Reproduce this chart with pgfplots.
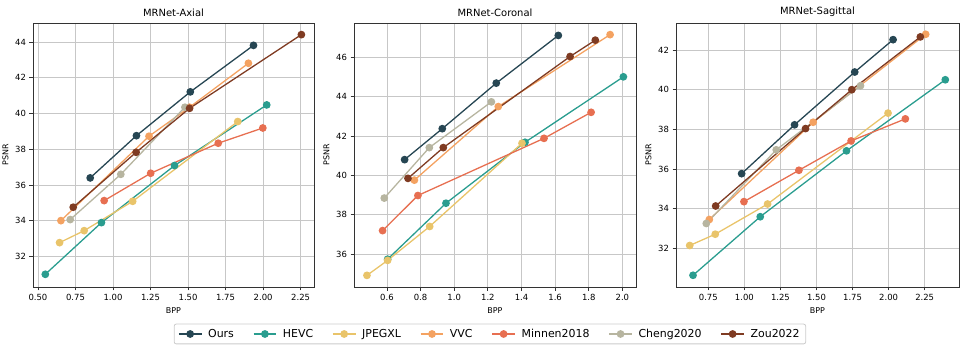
\documentclass[border=0pt]{standalone}
\usepackage{fontspec}
\setmainfont{DejaVu Sans}
\usepackage{pgfplots}
\pgfplotsset{compat=1.18}

\definecolor{cOurs}{HTML}{264653}
\definecolor{cHEVC}{HTML}{2A9D8F}
\definecolor{cJXL}{HTML}{E9C46A}
\definecolor{cVVC}{HTML}{F4A261}
\definecolor{cMinnen}{HTML}{E76F51}
\definecolor{cCheng}{HTML}{B7B5A0}
\definecolor{cZou}{HTML}{7F3B22}

\pgfplotsset{
  mr/.style={
    scale only axis, width=281bp, height=264bp,
    grid=major, grid style={draw=black!22, line width=0.8pt},
    axis line style={draw=black!80, line width=0.8pt},
    tick align=outside, xtick pos=lower, ytick pos=left,
    tick style={draw=black!80, line width=0.8pt}, major tick length=3.5bp,
    tick label style={font=\fontsize{8.5}{10}\selectfont},
    /pgf/number format/assume math mode=true,
    label style={font=\fontsize{8}{10}\selectfont},
    title style={font=\fontsize{10}{12}\selectfont, yshift=-3bp},
    xlabel={BPP}, ylabel={PSNR},
    every axis plot/.append style={line width=1.3pt, mark=*, mark size=3.2bp},
    legend image code/.code={\draw[mark repeat=2,mark phase=2] plot coordinates {(0cm,0cm) (0.4cm,0cm) (0.8cm,0cm)};},
  },
  ours/.style={color=cOurs},
  hevc/.style={color=cHEVC},
  jxl/.style={color=cJXL},
  vvc/.style={color=cVVC},
  minnen/.style={color=cMinnen},
  cheng/.style={color=cCheng},
  zou/.style={color=cZou},
}

\begin{document}
\begin{tikzpicture}
\useasboundingbox (0,0) rectangle (969bp,353bp);

% ---- Axial ----
\begin{axis}[mr, at={(33bp,66bp)}, anchor=south west,
  title={MRNet-Axial},
  xmin=0.467, xmax=2.339, ymin=30.30, ymax=45.06,
  xtick={0.5,0.75,...,2.25}, ytick={32,34,...,44},
  xticklabel style={/pgf/number format/.cd, fixed, fixed zerofill, precision=2},
]
\addplot[hevc] coordinates {(0.549,31.01) (0.923,33.90) (1.410,37.09) (2.024,40.48)};
\addplot[jxl] coordinates {(0.644,32.78) (0.808,33.45) (1.131,35.09) (1.831,39.55)};
\addplot[vvc] coordinates {(0.653,34.01) (1.240,38.73) (1.510,40.35) (1.902,42.81)};
\addplot[minnen] coordinates {(0.941,35.13) (1.251,36.66) (1.701,38.34) (1.998,39.19)};
\addplot[cheng] coordinates {(0.715,34.07) (1.052,36.60) (1.479,40.35)};
\addplot[zou] coordinates {(0.735,34.76) (1.154,37.83) (1.510,40.29) (2.255,44.41)};
\addplot[ours] coordinates {(0.848,36.40) (1.156,38.76) (1.515,41.21) (1.936,43.81)};
\end{axis}

% ---- Coronal ----
\begin{axis}[mr, at={(354bp,66bp)}, anchor=south west, width=282bp,
  title={MRNet-Coronal},
  xmin=0.404, xmax=2.081, ymin=34.34, ymax=47.73,
  xtick={0.6,0.8,...,2.01}, ytick={36,38,...,46},
  xticklabel style={/pgf/number format/.cd, fixed, fixed zerofill, precision=1},
  legend style={at={(0.482,-0.178)}, anchor=center, legend columns=7,
    font=\fontsize{11}{13}\selectfont, draw=black!20, line width=0.8pt,
    rounded corners=2bp, inner xsep=4bp, inner ysep=3bp,
    /tikz/every odd column/.append style={column sep=4bp},
    /tikz/every even column/.append style={column sep=17bp}},
  legend cell align=left,
]
\addplot[ours] coordinates {(0.705,40.80) (0.929,42.37) (1.250,44.68) (1.619,47.10)};
\addplot[hevc] coordinates {(0.604,35.75) (0.951,38.59) (1.421,41.68) (2.006,45.00)};
\addplot[jxl] coordinates {(0.481,34.93) (0.604,35.69) (0.854,37.41) (1.403,41.63)};
\addplot[vvc] coordinates {(0.763,39.76) (1.262,43.49) (1.927,47.14)};
\addplot[minnen] coordinates {(0.574,37.20) (0.784,38.98) (1.534,41.88) (1.814,43.20)};
\addplot[cheng] coordinates {(0.584,38.85) (0.852,41.41) (1.221,43.73)};
\addplot[zou] coordinates {(0.725,39.85) (0.935,41.41) (1.689,46.03) (1.839,46.86)};
\legend{Ours, HEVC, JPEGXL, VVC, Minnen2018, Cheng2020, Zou2022}
\end{axis}

% ---- Sagittal ----
\begin{axis}[mr, at={(676bp,66bp)}, anchor=south west, width=283bp,
  title={MRNet-Sagittal},
  xmin=0.526, xmax=2.488, ymin=30.06, ymax=43.36,
  xtick={0.75,1.0,...,2.25}, ytick={32,34,...,42},
  xticklabel style={/pgf/number format/.cd, fixed, fixed zerofill, precision=2},
]
\addplot[hevc] coordinates {(0.644,30.65) (1.110,33.60) (1.708,36.92) (2.393,40.50)};
\addplot[jxl] coordinates {(0.621,32.15) (0.798,32.72) (1.161,34.24) (1.996,38.82)};
\addplot[minnen] coordinates {(0.997,34.36) (1.378,35.94) (1.740,37.42) (2.116,38.53)};
\addplot[vvc] coordinates {(0.757,33.46) (1.477,38.36) (2.257,42.79)};
\addplot[cheng] coordinates {(0.736,33.26) (1.221,36.97) (1.805,40.20)};
\addplot[zou] coordinates {(0.801,34.14) (1.424,38.04) (1.745,40.00) (2.220,42.66)};
\addplot[ours] coordinates {(0.981,35.77) (1.348,38.23) (1.765,40.89) (2.031,42.52)};
\end{axis}
\end{tikzpicture}
\end{document}
